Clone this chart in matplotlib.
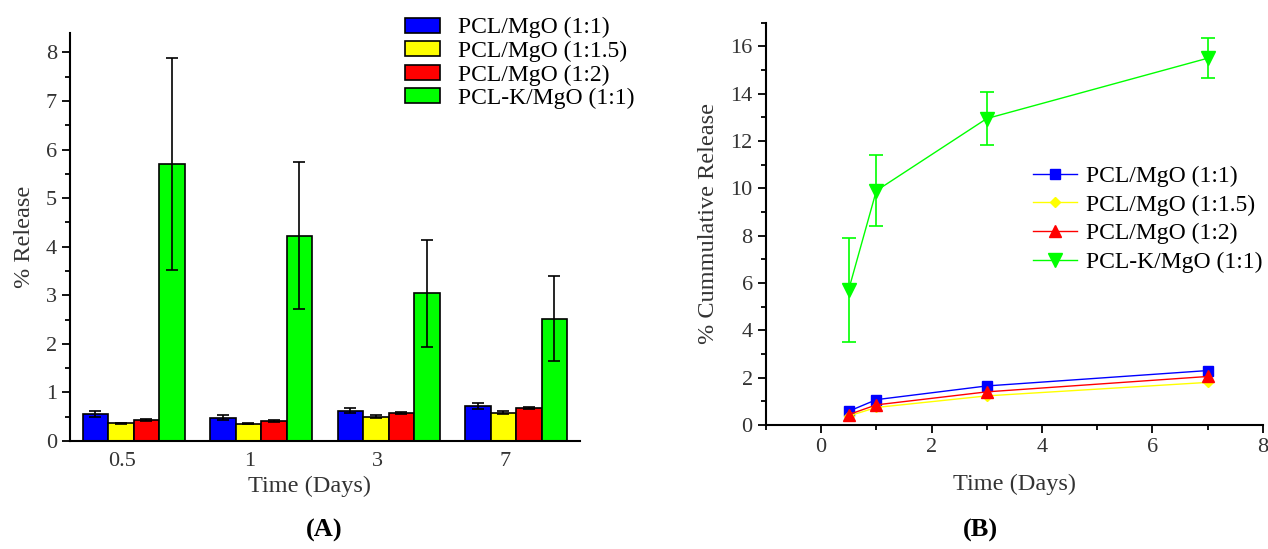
import matplotlib
matplotlib.use('Agg')
import matplotlib.pyplot as plt
from matplotlib.ticker import MultipleLocator
import numpy as np

plt.rcParams['font.family'] = ['Liberation Serif', 'DejaVu Serif']

# panel A data: % release per time point
days = ['0.5', '1', '3', '7']
series = ['PCL/MgO (1:1)', 'PCL/MgO (1:1.5)', 'PCL/MgO (1:2)', 'PCL-K/MgO (1:1)']
colors = ['#0000ff', '#ffff00', '#ff0000', '#00ff00']

rel_11 = [0.55, 0.48, 0.62, 0.72]
rel_115 = [0.37, 0.36, 0.50, 0.58]
rel_12 = [0.43, 0.41, 0.57, 0.67]
rel_k = [5.70, 4.23, 3.04, 2.52]
err_11 = [0.06, 0.05, 0.05, 0.07]
err_115 = [0.01, 0.02, 0.03, 0.03]
err_12 = [0.02, 0.02, 0.02, 0.02]
err_k = [2.19, 1.52, 1.10, 0.87]

# panel B data: cumulative release
t_days = [0.5, 1, 3, 7]
cum_11 = [0.58, 1.07, 1.65, 2.30]
cum_115 = [0.38, 0.74, 1.23, 1.80]
cum_12 = [0.44, 0.85, 1.40, 2.05]
cum_k = [5.72, 9.90, 12.95, 15.50]
cum_err_k = [2.2, 1.5, 1.13, 0.85]

fig = plt.figure(figsize=(12.68, 5.49), dpi=100)
tick_col = '#333333'

# ---- (A) bar chart ----
ax = fig.add_axes([0.0552, 0.1967, 0.4022, 0.7433])
x = np.arange(len(days))
w = 0.2
vals = [rel_11, rel_115, rel_12, rel_k]
errs = [err_11, err_115, err_12, err_k]
for i, (v, e, c, lab) in enumerate(zip(vals, errs, colors, series)):
    ax.bar(x - 0.3 + i * w, v, w, color=c, edgecolor='black', linewidth=1.2,
           label=lab, yerr=e, capsize=4,
           error_kw=dict(ecolor='black', elinewidth=1.2, capthick=1.2))
ax.set_xlim(-0.5, 3.5)
ax.set_ylim(0, 8.4)
ax.set_xticks(x - 0.09)
ax.set_xticklabels(days)
ax.yaxis.set_major_locator(MultipleLocator(1))
ax.yaxis.set_minor_locator(MultipleLocator(0.5))
ax.tick_params(axis='x', length=0, pad=8, labelsize=16, labelcolor=tick_col)
ax.tick_params(axis='y', which='major', length=6, width=1.3, labelsize=16, labelcolor=tick_col)
ax.tick_params(axis='y', which='minor', length=3.5, width=1.3)
for s in ['top', 'right']:
    ax.spines[s].set_visible(False)
for s in ['left', 'bottom']:
    ax.spines[s].set_linewidth(1.5)
ax.set_xlabel('Time (Days)', fontsize=17.5, color=tick_col)
ax.xaxis.set_label_coords(0.469, -0.085)
ax.set_ylabel('% Release', fontsize=17.5, color=tick_col, labelpad=8)
ax.legend(loc='upper left', bbox_to_anchor=(0.31, 0.99), bbox_transform=fig.transFigure,
          frameon=False, fontsize=17, handlelength=1.5, handleheight=0.6,
          labelspacing=0.1, handletextpad=0.75, borderpad=0)

# ---- (B) cumulative line chart ----
bx = fig.add_axes([0.604, 0.2259, 0.392, 0.7327])
bx.plot(t_days, cum_11, '-s', color='#0000ff', lw=1, ms=7, label=series[0])
bx.plot(t_days, cum_115, '-D', color='#ffff00', lw=1, ms=5, label=series[1])
bx.plot(t_days, cum_12, '-^', color='#ff0000', lw=1, ms=8, label=series[2])
bx.errorbar(t_days, cum_k, yerr=cum_err_k, fmt='none', ecolor='#00ff00',
            capsize=5, elinewidth=1.2, capthick=1.2)
bx.plot(t_days, cum_k, '-v', color='#00ff00', lw=1, ms=10, label=series[3])
bx.set_xlim(-1, 8)
bx.set_ylim(0, 17)
bx.xaxis.set_major_locator(MultipleLocator(2))
bx.xaxis.set_minor_locator(MultipleLocator(1))
bx.yaxis.set_major_locator(MultipleLocator(2))
bx.yaxis.set_minor_locator(MultipleLocator(1))
bx.tick_params(which='major', length=6, width=1.3, labelsize=16, labelcolor=tick_col)
bx.tick_params(which='minor', length=3.5, width=1.3)
for s in ['top', 'right']:
    bx.spines[s].set_visible(False)
for s in ['left', 'bottom']:
    bx.spines[s].set_linewidth(1.5)
bx.set_xlabel('Time (Days)', fontsize=17.5, color=tick_col, labelpad=12)
bx.set_ylabel('% Cummulative Release', fontsize=17.5, color=tick_col, labelpad=8)
bx.legend(loc='upper left', bbox_to_anchor=(0.805, 0.72), bbox_transform=fig.transFigure,
          frameon=False, fontsize=17, handlelength=1.9, labelspacing=0.3,
          handletextpad=0.35, borderpad=0)

fig.text(0.256, 0.022, '(A)', fontsize=19, fontweight='bold', ha='center')
fig.text(0.773, 0.022, '(B)', fontsize=19, fontweight='bold', ha='center')

fig.savefig('out.png', dpi=100)
